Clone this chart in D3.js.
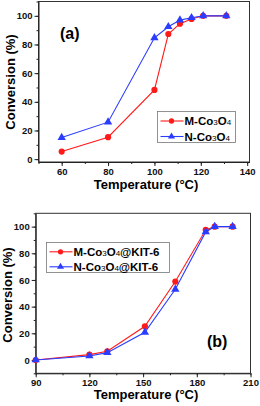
<!DOCTYPE html>
<html>
<head>
<meta charset="utf-8">
<script src="https://cdn.jsdelivr.net/npm/d3@7"></script>
<style>
  body { margin: 0; background: #fff; }
  svg { display: block; font-family: "Liberation Sans", Arial, sans-serif; }
  .tick text { font-size: 9.5px; font-weight: bold; fill: #111; }
  .domain, .tick line { stroke: #222; }
</style>
</head>
<body>
<svg id="chart" width="260" height="406"></svg>
<script>
// panel (a)
const temp_a = [60, 80, 100, 106, 111, 116, 121, 131]
const m_co3o4 = [5.3, 15.3, 48.3, 87.3, 94.5, 97.8, 100, 100]
const n_co3o4 = [15.1, 25.8, 84.7, 92.4, 97, 98.7, 100, 100]
const ticks_x_a = [60, 80, 100, 120, 140]

// panel (b)
const temp_b = [90, 120, 130, 151, 168, 185, 190, 200]
const m_kit6 = [0, 4, 6.5, 25.3, 58.8, 97.6, 100, 100]
const n_kit6 = [0, 3, 5.5, 20.8, 53, 96, 100, 100]
const ticks_x_b = [90, 120, 150, 180, 210]

const ticks_y = [0, 20, 40, 60, 80, 100]

const color_dict = { 'M': '#ff1a1a', 'N': '#2a3cff' }

let svg = d3.select('#chart')

function gen_panel(cfg) {
  let x = d3.scaleLinear().domain(cfg.x_dom).range(cfg.x_rng)
  let y = d3.scaleLinear().domain(cfg.y_dom).range(cfg.y_rng)
  let g = svg.append('g')

  // frame
  g.append('rect')
    .attr('x', cfg.x_rng[0]).attr('y', cfg.y_rng[1])
    .attr('width', cfg.x_rng[1] - cfg.x_rng[0])
    .attr('height', cfg.y_rng[0] - cfg.y_rng[1])
    .style('fill', 'none').style('stroke', '#333').style('stroke-width', 1)

  // minor ticks
  let minor_x = d3.range(cfg.x_dom[0], cfg.x_dom[1] + 0.01, cfg.x_minor)
  let minor_y = d3.range(-10, 111, 10).filter(v => v >= cfg.y_dom[0] && v <= cfg.y_dom[1])
  g.append('g').attr('transform', `translate(0,${cfg.y_rng[0]})`)
    .call(d3.axisBottom(x).tickValues(minor_x).tickSize(2).tickFormat(''))
    .call(a => a.select('.domain').remove())
  g.append('g').attr('transform', `translate(${cfg.x_rng[0]},0)`)
    .call(d3.axisLeft(y).tickValues(minor_y).tickSize(2).tickFormat(''))
    .call(a => a.select('.domain').remove())

  // major axes
  g.append('g').attr('transform', `translate(0,${cfg.y_rng[0]})`)
    .call(d3.axisBottom(x).tickValues(cfg.ticks_x).tickSize(4).tickSizeOuter(0).tickPadding(2))
  g.append('g').attr('transform', `translate(${cfg.x_rng[0]},0)`)
    .call(d3.axisLeft(y).tickValues(ticks_y).tickSize(4).tickSizeOuter(0).tickPadding(2))

  // axis titles
  g.append('text')
    .attr('x', cfg.xt[0]).attr('y', cfg.xt[1])
    .attr('text-anchor', 'middle')
    .style('font-size', '13px').style('font-weight', 'bold')
    .text('Temperature (°C)')
  g.append('text')
    .attr('transform', `translate(${cfg.yt[0]},${cfg.yt[1]}) rotate(-90)`)
    .attr('text-anchor', 'middle')
    .style('font-size', '13px').style('font-weight', 'bold')
    .text('Conversion (%)')

  // series
  let line = d3.line().x(d => x(d[0])).y(d => y(d[1]))
  cfg.series.forEach(s => {
    let pts = cfg.temps.map((t, i) => [t, s.vals[i]])
    g.append('path').datum(pts)
      .attr('d', line)
      .style('fill', 'none').style('stroke', s.color).style('stroke-width', 1.1)
    g.selectAll(null).data(pts).enter().append('path')
      .attr('transform', d => `translate(${x(d[0])},${y(d[1])})`)
      .attr('d', d3.symbol().type(s.sym).size(s.size))
      .style('fill', s.color)
  })

  // panel label
  g.append('text')
    .attr('x', cfg.lab[0]).attr('y', cfg.lab[1])
    .style('font-size', '16px').style('font-weight', 'bold')
    .text(cfg.label)

  // legend
  let lg = cfg.legend
  g.append('rect')
    .attr('x', lg.x).attr('y', lg.y).attr('width', lg.w).attr('height', lg.h)
    .style('fill', 'white').style('stroke', '#777').style('stroke-width', 0.8)
  cfg.series.forEach((s, i) => {
    let yy = lg.y + lg.row0 + i * lg.dy
    g.append('line')
      .attr('x1', lg.x + 3).attr('x2', lg.x + 26).attr('y1', yy).attr('y2', yy)
      .style('stroke', s.color).style('stroke-width', 1.1)
    g.append('path')
      .attr('transform', `translate(${lg.x + 14},${yy})`)
      .attr('d', d3.symbol().type(s.sym).size(22))
      .style('fill', s.color)
    let t = g.append('text')
      .attr('x', lg.x + 27).attr('y', yy + 4)
      .style('font-size', '11.5px').style('font-weight', 'bold')
    t.append('tspan').text(s.name[0])
    t.append('tspan').style('font-size', '8px').style('font-weight', 'normal').text('3')
    t.append('tspan').text('O')
    t.append('tspan').style('font-size', '8px').style('font-weight', 'normal').text('4')
    if (s.name[1]) t.append('tspan').text(s.name[1])
  })
}

gen_panel({
  x_dom: [50, 141], x_rng: [38.5, 249.5],
  y_dom: [-2, 110], y_rng: [162, 1.5],
  x_minor: 10, ticks_x: ticks_x_a,
  temps: temp_a,
  xt: [146, 189], yt: [15, 82],
  lab: [60, 39], label: '(a)',
  legend: { x: 157.5, y: 111.5, w: 78, h: 31, row0: 9.5, dy: 15.5 },
  series: [
    { name: ['M-Co', ''], vals: m_co3o4, color: color_dict['M'], sym: d3.symbolCircle, size: 30 },
    { name: ['N-Co', ''], vals: n_co3o4, color: color_dict['N'], sym: d3.symbolTriangle, size: 30 }
  ]
})

gen_panel({
  x_dom: [90, 210], x_rng: [35.7, 250.5],
  y_dom: [-10, 110], y_rng: [373.3, 213.3],
  x_minor: 15, ticks_x: ticks_x_b,
  temps: temp_b,
  xt: [146, 399], yt: [12, 295],
  lab: [207, 347], label: '(b)',
  legend: { x: 46.5, y: 242.5, w: 123, h: 30, row0: 9.3, dy: 15 },
  series: [
    { name: ['M-Co', '@KIT-6'], vals: m_kit6, color: color_dict['M'], sym: d3.symbolCircle, size: 30 },
    { name: ['N-Co', '@KIT-6'], vals: n_kit6, color: color_dict['N'], sym: d3.symbolTriangle, size: 30 }
  ]
})
</script>
</body>
</html>
